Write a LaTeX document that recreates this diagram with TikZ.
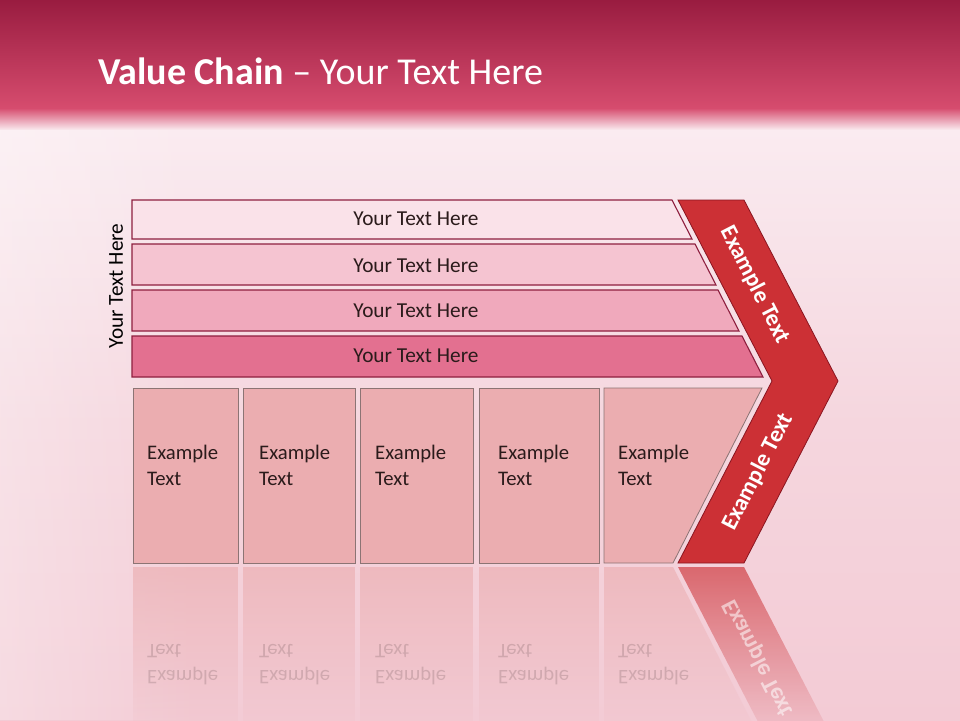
\documentclass[tikz,border=0pt]{standalone}
\usepackage{fontspec}
\setmainfont{Carlito}
\usetikzlibrary{fadings}
\definecolor{hdtop}{HTML}{991C40}
\definecolor{hdbot}{HTML}{D64C6E}
\definecolor{bgwhite}{HTML}{FAEBF0}
\definecolor{bgmid}{HTML}{F5D6DE}
\definecolor{bgbot}{HTML}{F3CBD5}
\definecolor{barA}{HTML}{FAE2E9}
\definecolor{barB}{HTML}{F5C4D1}
\definecolor{barC}{HTML}{F0A9BC}
\definecolor{barD}{HTML}{E37090}
\definecolor{barline}{HTML}{8E1F3F}
\definecolor{boxfill}{HTML}{EBADB0}
\definecolor{boxline}{HTML}{8C7474}
\definecolor{chevfill}{HTML}{CC3035}
\definecolor{chevline}{HTML}{8A1520}
\definecolor{darktext}{HTML}{2B1B1B}
\tikzfading[name=reflfade, top color=transparent!35, bottom color=transparent!100]
\tikzset{
  barshape/.style={draw=barline, line width=1.1pt},
  boxshape/.style={draw=boxline, fill=boxfill, line width=0.8pt},
  chevshape/.style={draw=chevline, fill=chevfill, line width=0.8pt},
  bartext/.style={text=darktext, font=\fontsize{21.3}{25}\selectfont, inner sep=0pt},
  boxtext/.style={text=darktext, font=\fontsize{20.7}{25.5}\selectfont, align=left, anchor=north west, inner sep=0pt},
  chevtext/.style={text=white, font=\bfseries\fontsize{23.5}{27}\selectfont, inner sep=0pt},
  reflbox/.style={fill=boxfill, path fading=reflfade},
  refltext/.style={text=darktext, opacity=0.16, font=\fontsize{20.7}{25.5}\selectfont, align=left, anchor=north west, inner sep=0pt, yscale=-1}
}
\begin{document}
\begin{tikzpicture}[x=1pt,y=1pt]
\useasboundingbox (0,0) rectangle (960,-720);
% background
\shade[top color=hdtop, bottom color=hdbot] (0,0) rectangle (960,-108);
\shade[top color=hdbot, bottom color=bgwhite] (0,-108) rectangle (960,-130);
\shade[top color=bgwhite, bottom color=bgbot, middle color=bgmid] (0,-130) rectangle (960,-720);
\fill[white, fill opacity=0.3, path fading=east] (0,-130) rectangle (200,-720);
% title
\node[anchor=base west, text=white, inner sep=0pt, font=\fontsize{38}{42}\selectfont] (title) at (98,-84) {\textbf{Value Chain} -- Your Text Here};
% side label
\node[rotate=90, text=black, font=\fontsize{21.3}{25}\selectfont, inner sep=0pt] (side) at (116,-286) {Your Text Here};
% bars
\path[barshape, fill=barA] (132,-200) -- (672,-200) -- (692,-239) -- (132,-239) -- cycle;
\path[barshape, fill=barB] (132,-244) -- (695,-244) -- (716,-285) -- (132,-285) -- cycle;
\path[barshape, fill=barC] (132,-290) -- (718,-290) -- (739,-331) -- (132,-331) -- cycle;
\path[barshape, fill=barD] (132,-336) -- (742,-336) -- (763,-377) -- (132,-377) -- cycle;
\node[bartext] (b1) at (416,-219) {Your Text Here};
\node[bartext] (b2) at (416,-266) {Your Text Here};
\node[bartext] (b3) at (416,-311) {Your Text Here};
\node[bartext] (b4) at (416,-356) {Your Text Here};
% chevron
\path[chevshape] (678,-200) -- (744,-200) -- (838,-381) -- (744,-563) -- (678,-563) -- (772,-381) -- cycle;
\node[chevtext, rotate=-62.8] (c1) at (755,-285) {Example Text};
\node[chevtext, rotate=62.8] (c2) at (758,-472) {Example Text};
% boxes
\path[boxshape] (133,-388) rectangle (238,-563);
\path[boxshape] (243,-388) rectangle (355,-563);
\path[boxshape] (360,-388) rectangle (473,-563);
\path[boxshape] (479,-388) rectangle (599,-563);
\path[boxshape] (604,-388) -- (762,-388) -- (673,-563) -- (604,-563) -- cycle;
\node[boxtext] (e1) at (147,-445) {Example\\Text};
\node[boxtext] (e2) at (259,-445) {Example\\Text};
\node[boxtext] (e3) at (375,-445) {Example\\Text};
\node[boxtext] (e4) at (498,-445) {Example\\Text};
\node[boxtext] (e5) at (618,-445) {Example\\Text};
% reflection
\path[reflbox] (133,-567) rectangle (238,-742);
\path[reflbox] (243,-567) rectangle (355,-742);
\path[reflbox] (360,-567) rectangle (473,-742);
\path[reflbox] (479,-567) rectangle (599,-742);
\path[reflbox] (604,-567) -- (673,-567) -- (762,-742) -- (604,-742) -- cycle;
\path[fill=chevfill, path fading=reflfade] (678,-567) -- (744,-567) -- (838,-749) -- (772,-749) -- cycle;
\node[refltext] (r1) at (147,-685) {Example\\Text};
\node[refltext] (r2) at (259,-685) {Example\\Text};
\node[refltext] (r3) at (375,-685) {Example\\Text};
\node[refltext] (r4) at (498,-685) {Example\\Text};
\node[refltext] (r5) at (618,-685) {Example\\Text};
\node[chevtext, opacity=0.55, rotate=-62.8, yscale=-1] (rc) at (758,-658) {Example Text};
\end{tikzpicture}
\end{document}
